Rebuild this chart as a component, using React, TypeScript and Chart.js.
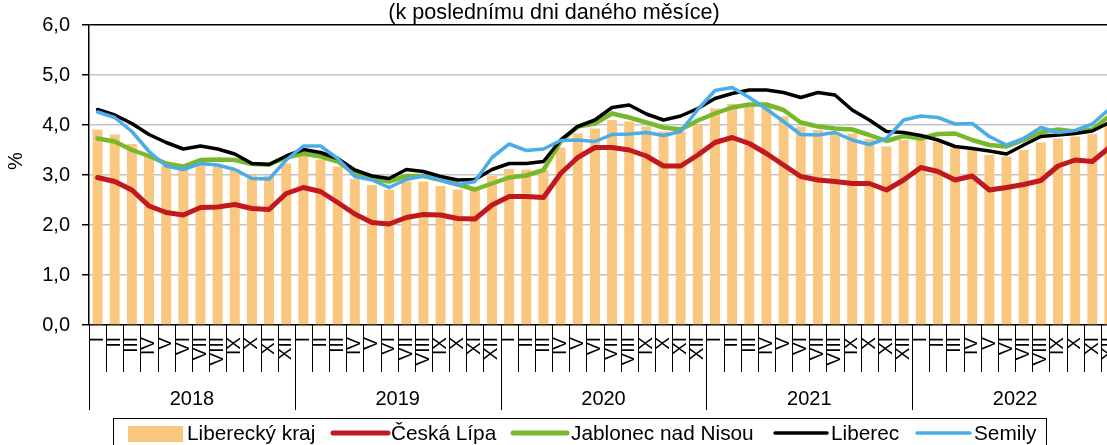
import React, { useEffect, useRef } from "react";
import { Chart, registerables } from "chart.js";

Chart.register(...registerables);

const years = ["2018", "2019", "2020", "2021", "2022"];
const months = ["I", "II", "III", "IV", "V", "VI", "VII", "VIII", "IX", "X", "XI", "XII"];
const titleText = "(k poslednímu dni daného měsíce)";
const yAxisLabel = "%";
const yMin = 0;
const yMax = 6;
const yStep = 1;

const seriesNames = ["Liberecký kraj", "Česká Lípa", "Jablonec nad Nisou", "Liberec", "Semily"];

const libereckyKraj = [
  3.91, 3.81, 3.62, 3.38, 3.19, 3.12, 3.25, 3.21, 3.12, 3.01, 2.99, 3.23,
  3.4, 3.31, 3.17, 2.92, 2.8, 2.71, 2.87, 2.87, 2.78, 2.71, 2.7, 2.98,
  3.12, 3.11, 3.1, 3.55, 3.83, 3.93, 4.1, 4.07, 3.97, 3.87, 3.87, 4.0,
  4.33, 4.42, 4.37, 4.37, 4.17, 3.97, 3.9, 3.85, 3.83, 3.72, 3.57, 3.7,
  3.72, 3.67, 3.55, 3.5, 3.4, 3.37, 3.5, 3.65, 3.73, 3.77, 3.82, 3.97,
];
const ceskaLipa = [
  2.95, 2.87, 2.7, 2.38, 2.25, 2.2, 2.35, 2.36, 2.41, 2.33, 2.31, 2.63,
  2.75, 2.67, 2.45, 2.22, 2.05, 2.02, 2.15, 2.21, 2.2, 2.13, 2.12, 2.4,
  2.57, 2.57, 2.55, 3.03, 3.35, 3.55, 3.55, 3.5, 3.38, 3.18, 3.18, 3.4,
  3.65, 3.75, 3.63, 3.43, 3.2, 2.97, 2.9, 2.87, 2.83, 2.83, 2.7, 2.9,
  3.15, 3.07, 2.9, 2.98, 2.7, 2.75, 2.81, 2.89, 3.18, 3.3, 3.27, 3.55,
];
const jablonec = [
  3.73, 3.67, 3.5, 3.38, 3.23, 3.17, 3.3, 3.31, 3.3, 3.22, 3.21, 3.35,
  3.43, 3.37, 3.27, 3.03, 2.93, 2.87, 2.98, 2.98, 2.9, 2.81, 2.71, 2.83,
  2.95, 2.99, 3.1, 3.67, 3.97, 4.03, 4.23, 4.15, 4.05, 3.95, 3.91, 4.09,
  4.23, 4.35, 4.41, 4.41, 4.3, 4.05, 3.97, 3.93, 3.91, 3.8, 3.68, 3.78,
  3.73, 3.82, 3.83, 3.7, 3.6, 3.57, 3.7, 3.85, 3.91, 3.87, 3.91, 4.18,
];
const liberec = [
  4.31, 4.2, 4.03, 3.81, 3.65, 3.52, 3.58, 3.52, 3.42, 3.23, 3.21, 3.38,
  3.51, 3.45, 3.33, 3.1, 2.98, 2.93, 3.11, 3.07, 2.97, 2.9, 2.91, 3.11,
  3.23, 3.23, 3.27, 3.7, 3.97, 4.1, 4.35, 4.4, 4.22, 4.1, 4.18, 4.33,
  4.53, 4.63, 4.7, 4.7, 4.65, 4.55, 4.65, 4.6, 4.3, 4.1, 3.87, 3.85,
  3.79, 3.7, 3.57, 3.53, 3.48, 3.42, 3.6, 3.77, 3.8, 3.83, 3.88, 4.05,
];
const semily = [
  4.26, 4.15, 3.87, 3.47, 3.18, 3.11, 3.23, 3.2, 3.11, 2.93, 2.92, 3.3,
  3.58, 3.58, 3.33, 2.97, 2.9, 2.75, 2.91, 2.98, 2.9, 2.8, 2.87, 3.35,
  3.62, 3.49, 3.52, 3.69, 3.7, 3.67, 3.81, 3.82, 3.85, 3.79, 3.87, 4.31,
  4.69, 4.75, 4.55, 4.32, 4.07, 3.81, 3.8, 3.85, 3.7, 3.61, 3.73, 4.1,
  4.18, 4.15, 4.02, 4.03, 3.77, 3.6, 3.73, 3.95, 3.85, 3.89, 4.02, 4.32,
];

const FONT = '"Liberation Sans", Arial, Helvetica, sans-serif';
const COLORS = {
  bar: "#F9C77F",
  red: "#C1191F",
  green: "#79B82B",
  black: "#000000",
  blue: "#4BADE8",
  grid: "#C3C3C3",
};

const CANVAS_W = 1130;
const CANVAS_H = 445;

const decorPlugin = {
  id: "decor",
  afterDraw(chart: any) {
    const ctx = chart.ctx as CanvasRenderingContext2D;
    const x = chart.scales.x;
    const y = chart.scales.y;
    const n = chart.data.labels.length;
    const step = (x.right - x.left) / n;
    const base = y.getPixelForValue(0);
    ctx.save();

    // category tick lines
    ctx.strokeStyle = "#000";
    ctx.lineWidth = 1;
    for (let i = 0; i <= n; i++) {
      const px = Math.round(x.left + i * step) + 0.5;
      const isYear = i % 12 === 0;
      ctx.beginPath();
      ctx.moveTo(px, base);
      ctx.lineTo(px, base + (isYear ? 85 : 47));
      ctx.stroke();
    }

    // month labels (rotated)
    ctx.fillStyle = "#000";
    ctx.font = `19px ${FONT}`;
    ctx.textAlign = "right";
    ctx.textBaseline = "middle";
    for (let i = 0; i < n; i++) {
      const cx = x.getPixelForValue(i);
      ctx.save();
      ctx.translate(cx, base + 12);
      ctx.rotate(-Math.PI / 2);
      ctx.fillText(months[i % 12], 0, 0);
      ctx.restore();
    }

    // year labels
    ctx.font = `20px ${FONT}`;
    ctx.textAlign = "center";
    ctx.textBaseline = "alphabetic";
    years.forEach((yr, k) => {
      const cx = x.left + (k * 12 + 6) * step;
      ctx.fillText(yr, cx, 405);
    });

    // title
    ctx.font = `21.6px ${FONT}`;
    ctx.textAlign = "center";
    ctx.fillText(titleText, 554, 19);

    // y axis label
    ctx.save();
    ctx.translate(16, 161);
    ctx.rotate(-Math.PI / 2);
    ctx.font = `20px ${FONT}`;
    ctx.textAlign = "center";
    ctx.textBaseline = "middle";
    ctx.fillText(yAxisLabel, 0, 0);
    ctx.restore();

    // legend
    ctx.strokeStyle = "#000";
    ctx.lineWidth = 1;
    ctx.strokeRect(113.5, 418.5, 933, 40);
    const ly = 433;
    const items = [
      { kind: "bar", color: COLORS.bar, x0: 128, x1: 183, tx: 187, w: 0 },
      { kind: "line", color: COLORS.red, x0: 333, x1: 388, tx: 391, w: 5 },
      { kind: "line", color: COLORS.green, x0: 513, x1: 567, tx: 571, w: 5 },
      { kind: "line", color: COLORS.black, x0: 775, x1: 827, tx: 831, w: 3.5 },
      { kind: "line", color: COLORS.blue, x0: 917, x1: 970, tx: 974, w: 3.5 },
    ];
    ctx.font = `20.8px ${FONT}`;
    ctx.textAlign = "left";
    ctx.textBaseline = "alphabetic";
    items.forEach((it, k) => {
      if (it.kind === "bar") {
        ctx.fillStyle = it.color;
        ctx.fillRect(it.x0, 426, it.x1 - it.x0, 16);
      } else {
        ctx.strokeStyle = it.color;
        ctx.lineWidth = it.w;
        ctx.lineCap = "round";
        ctx.beginPath();
        ctx.moveTo(it.x0, ly);
        ctx.lineTo(it.x1, ly);
        ctx.stroke();
      }
      ctx.fillStyle = "#000";
      ctx.fillText(seriesNames[k], it.tx, 440);
    });

    ctx.restore();
  },
};

export default function App() {
  const canvasRef = useRef<HTMLCanvasElement | null>(null);

  useEffect(() => {
    if (!canvasRef.current) return;
    const labels = years.flatMap((yr) => months.map((m) => `${m} ${yr}`));
    const lineDs = (label: string, data: number[], color: string, width: number, order: number) => ({
      type: "line" as const,
      label,
      data,
      borderColor: color,
      backgroundColor: color,
      borderWidth: width,
      pointRadius: 0,
      pointHoverRadius: 0,
      tension: 0,
      fill: false,
      order,
      borderJoinStyle: "round" as const,
      borderCapStyle: "round" as const,
    });
    const chart = new Chart(canvasRef.current, {
      data: {
        labels,
        datasets: [
          {
            type: "bar",
            label: seriesNames[0],
            data: libereckyKraj,
            backgroundColor: COLORS.bar,
            barPercentage: 0.58,
            categoryPercentage: 1,
            order: 5,
          } as any,
          lineDs(seriesNames[1], ceskaLipa, COLORS.red, 5, 4),
          lineDs(seriesNames[2], jablonec, COLORS.green, 4.5, 3),
          lineDs(seriesNames[3], liberec, COLORS.black, 3.5, 2),
          lineDs(seriesNames[4], semily, COLORS.blue, 3.5, 1),
        ],
      },
      options: {
        responsive: true,
        maintainAspectRatio: false,
        animation: false,
        layout: { padding: { left: 0, right: CANVAS_W - 1118, top: 25, bottom: 0 } },
        plugins: {
          legend: { display: false },
          title: { display: false },
          tooltip: { enabled: false },
        },
        scales: {
          x: {
            type: "category",
            offset: true,
            grid: { display: false },
            border: { display: false },
            ticks: { display: false },
            afterFit: (s: any) => {
              s.height = 120;
            },
          },
          y: {
            min: yMin,
            max: yMax,
            ticks: {
              stepSize: yStep,
              color: "#000",
              padding: 12,
              font: { size: 20, family: FONT },
              callback: (v: any) => Number(v).toFixed(1).replace(".", ","),
            },
            grid: {
              color: (c: any) => (c.tick && (c.tick.value === yMin || c.tick.value === yMax) ? "#000" : COLORS.grid),
              lineWidth: 1.5,
              tickColor: "#000",
              tickLength: 7,
            },
            border: { display: true, color: "#000", width: 1.5 },
            afterFit: (s: any) => {
              s.width = 89;
            },
          },
        },
      } as any,
      plugins: [decorPlugin],
    });
    return () => chart.destroy();
  }, []);

  return (
    <div
      style={{
        position: "fixed",
        left: 0,
        top: 0,
        width: 1107,
        height: CANVAS_H,
        overflow: "hidden",
        background: "#fff",
      }}
    >
      <div style={{ position: "relative", width: CANVAS_W, height: CANVAS_H }}>
        <canvas ref={canvasRef} />
      </div>
    </div>
  );
}
